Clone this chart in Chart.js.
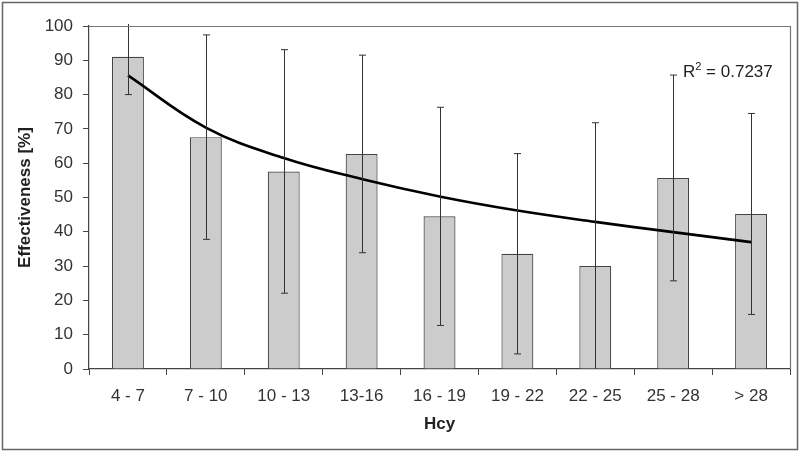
<!DOCTYPE html>
<html>
<head>
<meta charset="utf-8">
<script src="https://cdn.jsdelivr.net/npm/chart.js@4/dist/chart.umd.min.js"></script>
<style>
  html, body { margin: 0; padding: 0; background: #fff; }
  #wrap { width: 800px; height: 452px; position: relative; }
</style>
</head>
<body>
<div id="wrap"><canvas id="c" width="800" height="452"></canvas></div>
<script>
const categories = ['4 - 7', '7 - 10', '10 - 13', '13-16', '16 - 19', '19 - 22', '22 - 25', '25 - 28', '> 28'];
const effectiveness = [91.0, 67.6, 57.6, 62.7, 44.5, 33.6, 30.0, 55.7, 45.2];
const errorSize = [11.0, 29.8, 35.5, 28.8, 31.8, 29.2, 41.8, 30.0, 29.3];
const trendValues = [85.6, 70.4, 61.5, 55.4, 50.3, 46.2, 42.9, 39.9, 37.0];
const rSquaredText = '0.7237';

const FONT = "'Liberation Sans', Arial, sans-serif";
const AXIS_COLOR = '#444';

const frame = {
  id: 'frame',
  beforeDraw(chart) {
    const ctx = chart.ctx;
    ctx.save();
    ctx.fillStyle = '#fff';
    ctx.fillRect(0, 0, chart.width, chart.height);
    ctx.strokeStyle = '#666';
    ctx.lineWidth = 1.5;
    ctx.strokeRect(2.5, 2.5, chart.width - 5, chart.height - 5);
    ctx.restore();
  },
  afterDraw(chart) {
    const ctx = chart.ctx;
    const a = chart.chartArea;
    ctx.save();
    ctx.strokeStyle = '#777';
    ctx.lineWidth = 1.2;
    ctx.beginPath();
    ctx.moveTo(a.left, a.top + 0.5);
    ctx.lineTo(a.right + 0.5, a.top + 0.5);
    ctx.lineTo(a.right + 0.5, a.bottom);
    ctx.stroke();
    // R^2 label
    ctx.fillStyle = '#222';
    ctx.textBaseline = 'alphabetic';
    ctx.font = '17px ' + FONT;
    let x = a.right - 107;
    const y = chart.scales.y.getPixelForValue(85);
    ctx.fillText('R', x, y);
    x += ctx.measureText('R').width;
    ctx.font = '11px ' + FONT;
    ctx.fillText('2', x, y - 7);
    x += ctx.measureText('2').width;
    ctx.font = '17px ' + FONT;
    ctx.fillText(' = ' + rSquaredText, x, y);
    ctx.restore();
  }
};

const errorBars = {
  id: 'errorBars',
  afterDatasetsDraw(chart) {
    const ctx = chart.ctx;
    const a = chart.chartArea;
    const meta = chart.getDatasetMeta(0);
    const ys = chart.scales.y;
    ctx.save();
    ctx.beginPath();
    ctx.rect(a.left, a.top - 2, a.right - a.left, a.bottom - a.top + 2);
    ctx.clip();
    ctx.strokeStyle = '#333';
    ctx.lineWidth = 1;
    meta.data.forEach((bar, i) => {
      const x = Math.round(bar.x) + 0.5;
      const yTop = ys.getPixelForValue(effectiveness[i] + errorSize[i]);
      const yBot = ys.getPixelForValue(effectiveness[i] - errorSize[i]);
      ctx.beginPath();
      ctx.moveTo(x, yTop);
      ctx.lineTo(x, yBot);
      ctx.moveTo(x - 3.5, yTop);
      ctx.lineTo(x + 3.5, yTop);
      ctx.moveTo(x - 3.5, yBot);
      ctx.lineTo(x + 3.5, yBot);
      ctx.stroke();
    });
    ctx.restore();
  }
};

new Chart(document.getElementById('c'), {
  data: {
    labels: categories,
    datasets: [
      {
        type: 'bar',
        data: effectiveness,
        backgroundColor: '#cccccc',
        borderColor: '#444',
        borderWidth: 1.2,
        barPercentage: 0.41,
        categoryPercentage: 1.0,
        order: 2
      },
      {
        type: 'line',
        data: trendValues,
        borderColor: '#000',
        borderWidth: 2.6,
        pointRadius: 0,
        fill: false,
        tension: 0.4,
        order: 1
      }
    ]
  },
  options: {
    responsive: false,
    animation: false,
    devicePixelRatio: 1,
    layout: { padding: { top: 26, right: 10, left: 0, bottom: 0 } },
    plugins: { legend: { display: false }, tooltip: { enabled: false } },
    scales: {
      x: {
        grid: { display: true, drawOnChartArea: false, drawTicks: true, tickLength: 6, color: AXIS_COLOR, offset: true },
        border: { display: true, color: AXIS_COLOR, width: 1.2 },
        ticks: { color: '#333', font: { family: FONT, size: 17 }, padding: 11, maxRotation: 0, autoSkip: false },
        title: { display: true, text: 'Hcy', color: '#222', font: { family: FONT, size: 17, weight: 'bold' }, padding: { top: 0, bottom: 17 } },
        afterFit(scale) { scale.height = 83; }
      },
      y: {
        min: 0, max: 100,
        grid: { display: true, drawOnChartArea: false, drawTicks: true, tickLength: 6, color: AXIS_COLOR },
        border: { display: true, color: AXIS_COLOR, width: 1.2 },
        ticks: { stepSize: 10, color: '#333', font: { family: FONT, size: 17 }, padding: 10 },
        title: { display: true, text: 'Effectiveness [%]', color: '#222', font: { family: FONT, size: 17, weight: 'bold' }, padding: { top: 15, bottom: 0 } },
        afterFit(scale) { scale.width = 89; }
      }
    }
  },
  plugins: [frame, errorBars]
});
</script>
</body>
</html>
